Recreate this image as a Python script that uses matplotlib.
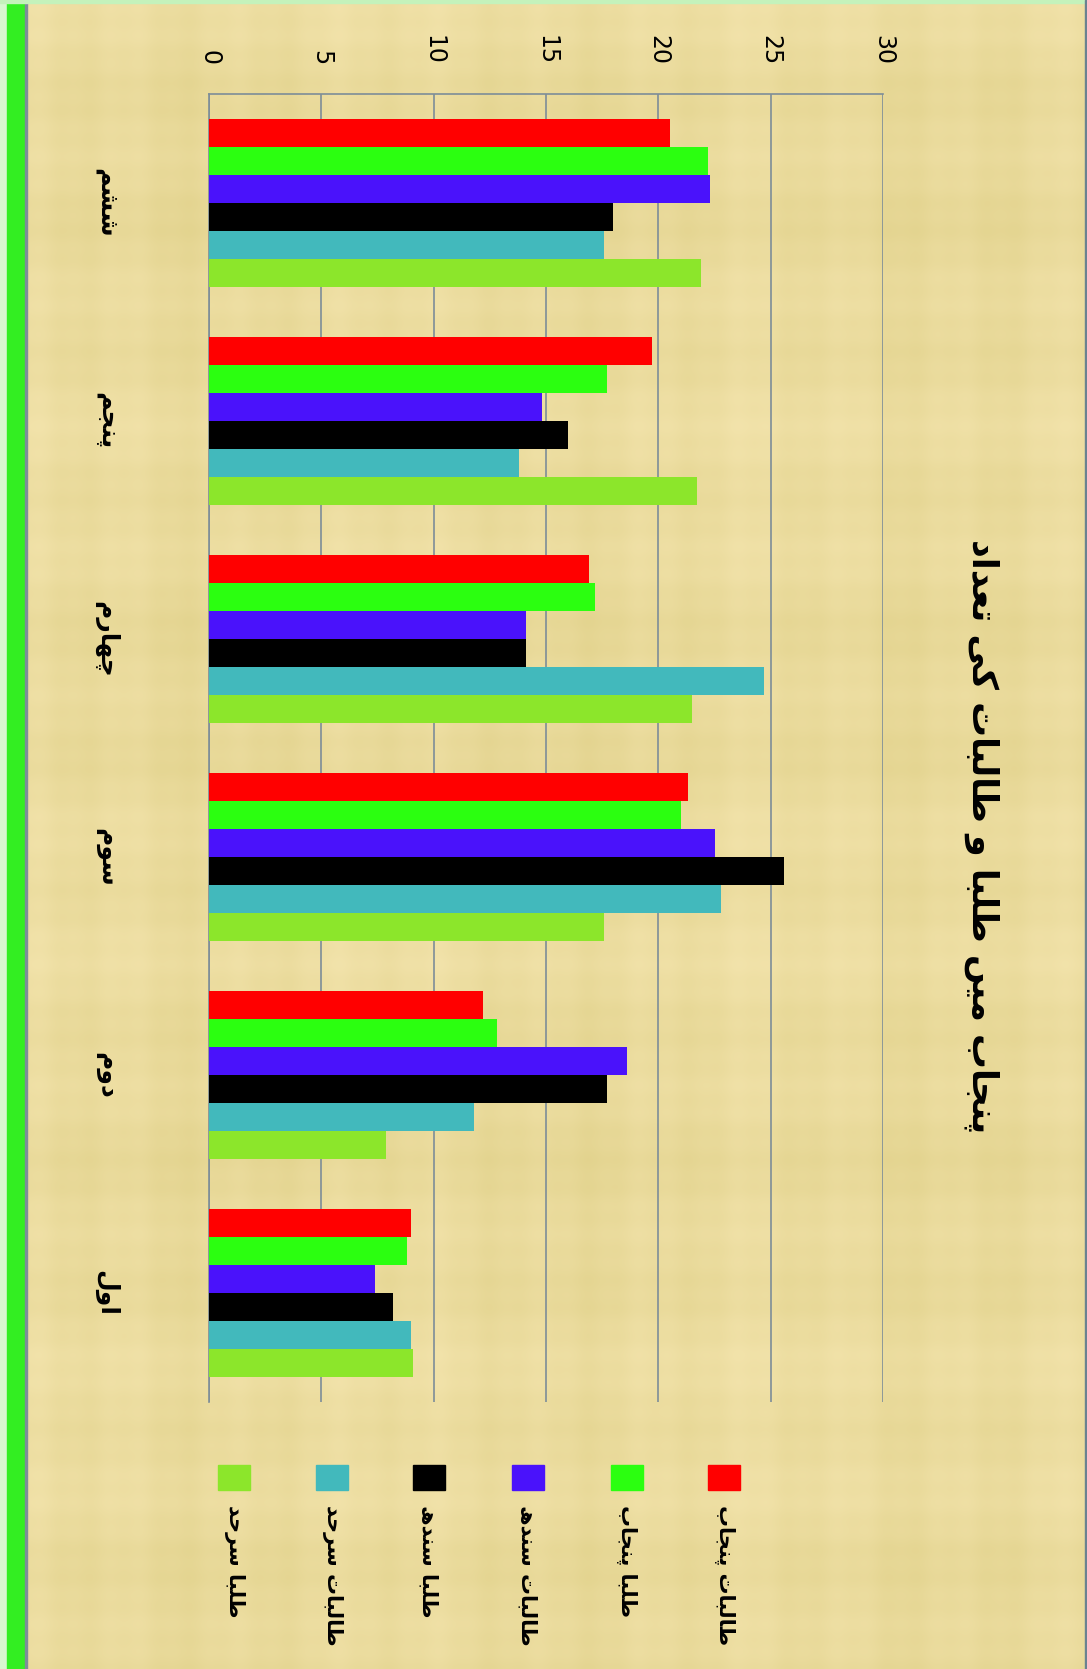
import matplotlib
matplotlib.use("Agg")
import matplotlib.pyplot as plt
import matplotlib.transforms as mtransforms
from matplotlib.patches import Rectangle
from matplotlib import font_manager
from matplotlib.ft2font import FT2Font
import numpy as np

# data (groups listed top -> bottom as they appear)
categories = ["ششم", "پنجم", "چهارم", "سوم", "دوم", "اول"]
series_names = ["طالبات پنجاب", "طلبا پنجاب", "طالبات سندھ",
                "طلبا سندھ", "طالبات سرحد", "طلبا سرحد"]
red_vals = [20.5, 19.7, 16.9, 21.3, 12.2, 9.0]
green_vals = [22.2, 17.7, 17.2, 21.0, 12.8, 8.8]
blue_vals = [22.3, 14.8, 14.1, 22.5, 18.6, 7.4]
black_vals = [18.0, 16.0, 14.1, 25.6, 17.7, 8.2]
teal_vals = [17.6, 13.8, 24.7, 22.8, 11.8, 9.0]
lime_vals = [21.9, 21.7, 21.5, 17.6, 7.9, 9.1]
title_text = "پنجاب میں طلبا و طالبات کی تعداد"
xticks = [0, 5, 10, 15, 20, 25, 30]

colors = ["#ff0000", "#2bff10", "#4a12fb", "#000000", "#42b9bc", "#8ce62b"]
series = [red_vals, green_vals, blue_vals, black_vals, teal_vals, lime_vals]

# ---- tiny arabic/urdu shaper (matplotlib does no shaping) ----
FORMS = {  # isolated, final, initial, medial
    'ا': (0xFE8D, 0xFE8E, None, None), 'آ': (0xFE81, 0xFE82, None, None),
    'ب': (0xFE8F, 0xFE90, 0xFE91, 0xFE92), 'پ': (0xFB56, 0xFB57, 0xFB58, 0xFB59),
    'ت': (0xFE95, 0xFE96, 0xFE97, 0xFE98), 'ٹ': (0xFB66, 0xFB67, 0xFB68, 0xFB69),
    'ث': (0xFE99, 0xFE9A, 0xFE9B, 0xFE9C), 'ج': (0xFE9D, 0xFE9E, 0xFE9F, 0xFEA0),
    'چ': (0xFB7A, 0xFB7B, 0xFB7C, 0xFB7D), 'ح': (0xFEA1, 0xFEA2, 0xFEA3, 0xFEA4),
    'خ': (0xFEA5, 0xFEA6, 0xFEA7, 0xFEA8), 'د': (0xFEA9, 0xFEAA, None, None),
    'ڈ': (0xFB88, 0xFB89, None, None), 'ذ': (0xFEAB, 0xFEAC, None, None),
    'ر': (0xFEAD, 0xFEAE, None, None), 'ڑ': (0xFB8C, 0xFB8D, None, None),
    'ز': (0xFEAF, 0xFEB0, None, None), 'س': (0xFEB1, 0xFEB2, 0xFEB3, 0xFEB4),
    'ش': (0xFEB5, 0xFEB6, 0xFEB7, 0xFEB8), 'ص': (0xFEB9, 0xFEBA, 0xFEBB, 0xFEBC),
    'ض': (0xFEBD, 0xFEBE, 0xFEBF, 0xFEC0), 'ط': (0xFEC1, 0xFEC2, 0xFEC3, 0xFEC4),
    'ظ': (0xFEC5, 0xFEC6, 0xFEC7, 0xFEC8), 'ع': (0xFEC9, 0xFECA, 0xFECB, 0xFECC),
    'غ': (0xFECD, 0xFECE, 0xFECF, 0xFED0), 'ف': (0xFED1, 0xFED2, 0xFED3, 0xFED4),
    'ق': (0xFED5, 0xFED6, 0xFED7, 0xFED8), 'ک': (0xFB8E, 0xFB8F, 0xFB90, 0xFB91),
    'گ': (0xFB92, 0xFB93, 0xFB94, 0xFB95), 'ل': (0xFEDD, 0xFEDE, 0xFEDF, 0xFEE0),
    'م': (0xFEE1, 0xFEE2, 0xFEE3, 0xFEE4), 'ن': (0xFEE5, 0xFEE6, 0xFEE7, 0xFEE8),
    'ں': (0xFB9E, 0xFB9F, 0xFEE7, 0xFEE8), 'و': (0xFEED, 0xFEEE, None, None),
    'ه': (0xFEE9, 0xFEEA, 0xFEEB, 0xFEEC), 'ھ': (0xFBAA, 0xFBAB, 0xFBAC, 0xFBAD),
    'ی': (0xFBFC, 0xFBFD, 0xFBFE, 0xFBFF), 'ئ': (0xFE89, 0xFE8A, 0xFE8B, 0xFE8C),
}
_font = FT2Font(font_manager.findfont("DejaVu Sans"))


def has_glyph(cp):
    return _font.get_char_index(cp) != 0


def shape(s):
    out = []
    i = 0
    while i < len(s):
        c = s[i]
        if c not in FORMS:
            out.append(c)
            i += 1
            continue
        prev = s[i - 1] if i > 0 else ''
        joins_prev = prev in FORMS and FORMS[prev][2] is not None
        nxt = s[i + 1] if i + 1 < len(s) else ''
        if c == 'ل' and nxt == 'ا':  # lam-alef
            out.append(chr(0xFEFC if joins_prev else 0xFEFB))
            i += 2
            continue
        joins_next = FORMS[c][2] is not None and nxt in FORMS
        f = FORMS[c]
        if joins_prev and joins_next:
            cp = f[3]
        elif joins_prev:
            cp = f[1]
        elif joins_next:
            cp = f[2]
        else:
            cp = f[0]
        out.append(chr(cp) if has_glyph(cp) else c)
        i += 1
    return ''.join(out)[::-1]


# ---- figure ----
W, H = 1087, 1669
fig = plt.figure(figsize=(W / 100, H / 100), dpi=100, facecolor="#ecdc9e")

# papyrus-like streaky background
bg = fig.add_axes([0, 0, 1, 1], zorder=-10)
xx = np.arange(W)[None, :]
yy = np.arange(H)[:, None]
tex = (0.35 * np.sin(xx * 0.061) + 0.25 * np.sin(xx * 0.017 + 1.3)
       + 0.35 * np.sin(yy * 0.047 + 0.4) + 0.3 * np.sin(yy * 0.013 + 2.1)
       + 0.15 * np.sin(yy * 0.21) + 0.15 * np.sin(xx * 0.19))
tex = (tex - tex.min()) / (tex.max() - tex.min())
c_lo = np.array([0.89, 0.83, 0.56])
c_hi = np.array([0.95, 0.89, 0.67])
img = c_lo + tex[..., None] * (c_hi - c_lo)
bg.imshow(img, aspect="auto", interpolation="bilinear")
bg.axis("off")

ax = fig.add_axes([209 / W, 1 - 1402 / H, (883 - 209) / W, (1402 - 94) / H])
ax.set_facecolor("none")

y = np.arange(len(categories))
h = 0.128
for k, vals in enumerate(series):
    ax.barh(y + (k - 2.5) * h, vals, height=h, color=colors[k], zorder=3)

ax.set_xlim(0, 30)
ax.set_ylim(5.5, -0.5)
ax.set_xticks(xticks)
ax.set_xticklabels([str(t) for t in xticks])
ax.xaxis.tick_top()
ax.tick_params(axis="x", length=0, pad=21, labelsize=17, labelrotation=270)
ax.set_yticks([])
ax.grid(axis="x", color="#7d8d98", lw=1.2, zorder=1)
for side in ["bottom", "right"]:
    ax.spines[side].set_visible(False)
for side in ["top", "left"]:
    ax.spines[side].set_color("#7d8d98")
    ax.spines[side].set_linewidth(1.2)

# category labels on the left
trans = mtransforms.blended_transform_factory(fig.transFigure, ax.transData)
for yi, cat in zip(y, categories):
    ax.text(106 / W, yi, shape(cat), transform=trans, rotation=270,
            ha="center", va="center", fontsize=18, fontweight="bold")

# title on the right
fig.text(982 / W, 1 - 836 / H, shape(title_text), rotation=270,
         ha="center", va="center", fontsize=25, fontweight="bold")

# legend along the bottom
leg_x = [724, 627, 528, 429, 332, 234]
for k in range(len(series)):
    fig.patches.append(Rectangle(((leg_x[k] - 16) / W, 1 - 1490 / H), 32 / W, 25 / H,
                                 transform=fig.transFigure, color=colors[k]))
    fig.text(leg_x[k] / W, 1 - 1505 / H, shape(series_names[k]), rotation=270,
             rotation_mode="anchor", ha="left", va="center", fontsize=15,
             fontweight="bold")

# frame stripes
fig.patches.append(Rectangle((0, 0), 7 / W, 1, transform=fig.transFigure, color="#d8f7cf"))
fig.patches.append(Rectangle((7 / W, 0), 18 / W, 1, transform=fig.transFigure, color="#33ee22"))
fig.patches.append(Rectangle((25 / W, 0), 2 / W, 1, transform=fig.transFigure, color="#7d8d98"))
fig.patches.append(Rectangle((0, 1 - 3 / H), 1, 3 / H, transform=fig.transFigure, color="#c4f2bb"))
fig.patches.append(Rectangle((1 - 2 / W, 0), 2 / W, 1, transform=fig.transFigure, color="#6a8290"))

fig.savefig("out.png", dpi=100, facecolor=fig.get_facecolor())
